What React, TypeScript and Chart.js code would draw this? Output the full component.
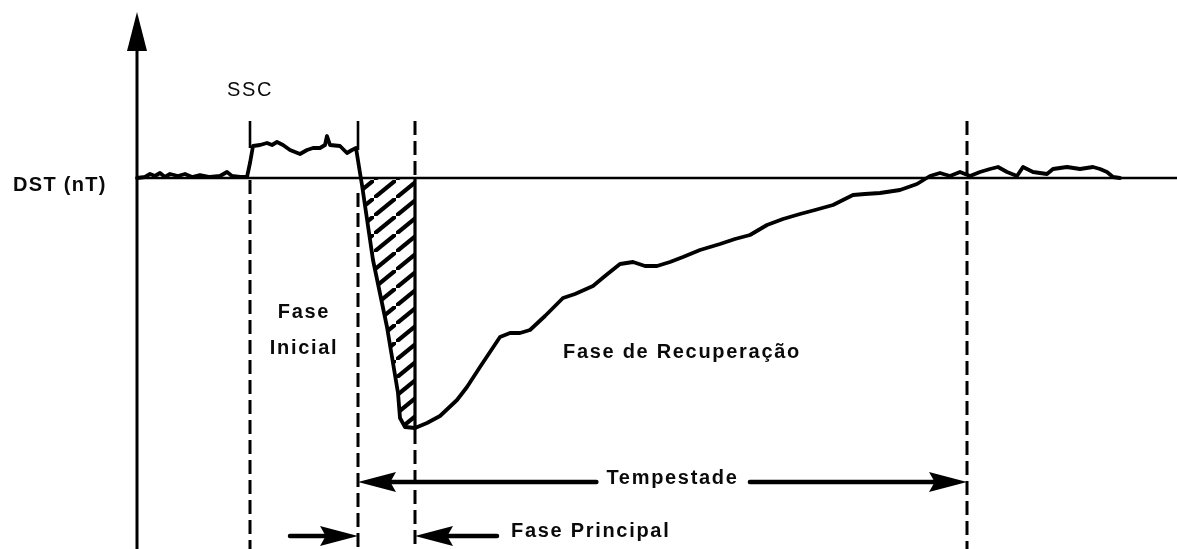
import React, { useEffect, useRef } from "react";
import { Chart, registerables } from "chart.js";

Chart.register(...registerables);

// Time (hours, arbitrary origin) and Dst (nT) of a schematic geomagnetic storm
const hours = [
  0, 0.8, 1.3, 1.8, 2.3, 2.8, 3.3, 4.1, 4.8, 5.5, 6.3, 7.3, 8.3, 9.0, 9.5, 10.3, 11.0,
  11.3, 11.6,
  12.3, 13.0, 13.5, 14.0, 14.6, 15.3, 16.3, 17.0, 17.6, 18.3, 18.8, 19.0, 19.3, 20.3, 21.0, 21.5, 21.9,
  22.3, 22.5, 23.6, 25.0, 26.1, 26.3, 26.8, 27.8,
  29.0, 30.3, 32.0, 33.0, 34.3, 36.3, 37.3, 38.3, 39.3, 40.8, 42.6, 43.8, 45.6, 46.8, 48.3,
  49.6, 50.8, 52.0, 53.3, 54.6, 56.3, 58.3, 59.8, 61.3, 63.0, 64.6, 66.3, 67.8, 69.6, 71.6,
  72.8, 74.3, 76.3, 78.0, 79.3,
  80.3, 81.3, 82.3, 83.3, 84.3, 85.3, 86.1, 87.0, 88.0, 88.6, 89.6, 91.0, 91.6, 93.0, 94.3,
  95.6, 96.3, 97.0, 97.6, 98.3,
];
const dstValues = [
  0, 1, 4, 2, 5, 1, 4, 2, 4, 1, 3, 1, 2, 6, 2, 1, 1,
  15, 32,
  33, 35, 33, 36, 33, 28, 24, 28, 30, 30, 33, 42, 33, 32, 25, 28, 30,
  5, -7, -82, -149, -215, -240, -249, -250,
  -245, -238, -222, -209, -189, -159, -155, -155, -152, -138, -120, -116, -108, -98, -86,
  -84, -88, -88, -84, -79, -72, -66, -61, -57, -47, -41, -36, -32, -27, -17,
  -16, -15, -12, -6, 2,
  5, 2, 6, 2, 6, 9, 11, 6, 2, 11, 6, 4, 9, 11, 9,
  11, 9, 6, 1, 0,
];
// SSC, start of main phase, Dst minimum, end of storm
const phaseHours = [11.3, 22.1, 27.8, 83.0];
const xRange = [-13.7, 104];
const yRange = [-371, 178];
const labelTexts = {
  ssc: "SSC",
  axis: "DST (nT)",
  initial: ["Fase", "Inicial"],
  recovery: "Fase de Recuperação",
  storm: "Tempestade",
  main: "Fase Principal",
};

const INK = "#000";
const FONT = "'Liberation Sans', Arial, sans-serif";

function makeHatch(): CanvasPattern | string {
  const w = 22;
  const h = 18;
  const c = document.createElement("canvas");
  c.width = w;
  c.height = h;
  const g = c.getContext("2d");
  if (!g) return "rgba(0,0,0,0.3)";
  g.strokeStyle = INK;
  g.lineWidth = 4.2;
  g.lineCap = "square";
  for (const [ox, oy] of [[0, 0], [-w, h], [w, -h]]) {
    g.beginPath();
    g.moveTo(ox, oy + h);
    g.lineTo(ox + w, oy);
    g.stroke();
  }
  const p = g.createPattern(c, "repeat");
  return p || "rgba(0,0,0,0.3)";
}

function drawArrow(ctx: CanvasRenderingContext2D, fromX: number, toX: number, y: number) {
  const dir = Math.sign(toX - fromX);
  const headLen = 38;
  const half = 10;
  ctx.save();
  ctx.strokeStyle = INK;
  ctx.fillStyle = INK;
  ctx.lineWidth = 4.5;
  ctx.lineCap = "round";
  ctx.beginPath();
  ctx.moveTo(fromX, y);
  ctx.lineTo(toX - dir * headLen * 0.6, y);
  ctx.stroke();
  ctx.beginPath();
  ctx.moveTo(toX, y);
  ctx.lineTo(toX - dir * headLen, y - half);
  ctx.lineTo(toX - dir * headLen * 0.85, y);
  ctx.lineTo(toX - dir * headLen, y + half);
  ctx.closePath();
  ctx.fill();
  ctx.restore();
}

function vline(ctx: CanvasRenderingContext2D, x: number, y0: number, y1: number, dashed: boolean, width = 3) {
  ctx.save();
  ctx.strokeStyle = INK;
  ctx.lineWidth = width;
  ctx.setLineDash(dashed ? [14, 6] : []);
  ctx.beginPath();
  ctx.moveTo(x, y0);
  ctx.lineTo(x, y1);
  ctx.stroke();
  ctx.restore();
}

function text(ctx: CanvasRenderingContext2D, s: string, x: number, y: number, align: CanvasTextAlign, bold = true, size = 20, spacing = 1.7) {
  ctx.save();
  ctx.fillStyle = "#0a0a0a";
  ctx.font = `${bold ? "bold " : ""}${size}px ${FONT}`;
  (ctx as any).letterSpacing = `${spacing}px`;
  ctx.textBaseline = "middle";
  const w = ctx.measureText(s).width;
  let left = x;
  if (align === "center") left = x - w / 2;
  if (align === "right") left = x - w;
  ctx.textAlign = "left";
  ctx.fillText(s, left, y);
  ctx.restore();
  return { left, right: left + w - spacing };
}

const diagramPlugin = {
  id: "stormDiagram",
  beforeDatasetsDraw(chart: any) {
    const ctx: CanvasRenderingContext2D = chart.ctx;
    const xs = chart.scales.x;
    const ys = chart.scales.y;
    const area = chart.chartArea;
    const x0 = xs.getPixelForValue(0);
    const yb = ys.getPixelForValue(0);
    // baseline Dst = 0
    ctx.save();
    ctx.strokeStyle = INK;
    ctx.lineWidth = 2.6;
    ctx.beginPath();
    ctx.moveTo(x0, yb);
    ctx.lineTo(area.right, yb);
    ctx.stroke();
    ctx.restore();
  },
  afterDatasetsDraw(chart: any) {
    const ctx: CanvasRenderingContext2D = chart.ctx;
    const xs = chart.scales.x;
    const ys = chart.scales.y;
    const area = chart.chartArea;
    const X = (v: number) => xs.getPixelForValue(v);
    const x0 = X(0);
    const yb = ys.getPixelForValue(0);
    const yMin = ys.getPixelForValue(Math.min(...dstValues));
    const bottom = area.bottom;

    // vertical axis with arrow
    ctx.save();
    ctx.strokeStyle = INK;
    ctx.fillStyle = INK;
    ctx.lineWidth = 3;
    ctx.beginPath();
    ctx.moveTo(x0, bottom);
    ctx.lineTo(x0, area.top + 48);
    ctx.stroke();
    ctx.beginPath();
    ctx.moveTo(x0, area.top + 12);
    ctx.lineTo(x0 - 10, area.top + 51);
    ctx.lineTo(x0 + 10, area.top + 51);
    ctx.closePath();
    ctx.fill();
    ctx.restore();

    const [pSsc, pMain, pMin, pEnd] = phaseHours.map(X);
    const tickTop = yb - 57;
    // SSC bracket ticks
    vline(ctx, pSsc, tickTop, yb - 30, false, 2.6);
    vline(ctx, pMain, tickTop, yb - 28, false, 2.6);
    // phase boundaries
    vline(ctx, pSsc, yb + 2, bottom, true);
    vline(ctx, pMain, yb + 15, bottom, true);
    vline(ctx, pMin, tickTop, yb, true);
    vline(ctx, pMin, yb, yMin + 2, false, 3.2);
    vline(ctx, pMin, yMin + 2, bottom, true);
    vline(ctx, pEnd, tickTop, bottom, true);

    // labels
    text(ctx, labelTexts.ssc, pSsc, 90, "center", false, 20, 1.6);
    text(ctx, labelTexts.axis, 13, yb + 7, "left", true, 20, 1.3);
    text(ctx, labelTexts.initial[0], (pSsc + pMain) / 2, 312, "center");
    text(ctx, labelTexts.initial[1], (pSsc + pMain) / 2, 348, "center");
    text(ctx, labelTexts.recovery, 563, 352, "left");

    // storm arrow row
    const rowStorm = bottom - 67;
    const t = text(ctx, labelTexts.storm, (pMain + pEnd) / 2 + 10, rowStorm - 4, "center");
    drawArrow(ctx, t.left - 10, pMain, rowStorm);
    drawArrow(ctx, t.right + 13, pEnd, rowStorm);

    // main phase row
    const rowMain = bottom - 13;
    drawArrow(ctx, pMain - 68, pMain, rowMain);
    drawArrow(ctx, pMin + 82, pMin, rowMain);
    text(ctx, labelTexts.main, pMin + 96, rowMain - 5, "left");
  },
};

export default function App() {
  const ref = useRef<HTMLCanvasElement | null>(null);
  useEffect(() => {
    if (!ref.current) return;
    const points = hours.map((h, i) => ({ x: h, y: dstValues[i] }));
    const mainPhase = points
      .filter((p) => p.x >= phaseHours[1] && p.x <= phaseHours[2])
      .map((p) => ({ x: p.x, y: Math.min(p.y, 0) }));
    const chart = new Chart(ref.current, {
      type: "line",
      data: {
        datasets: [
          {
            data: mainPhase,
            borderWidth: 0,
            borderColor: "rgba(0,0,0,0)",
            backgroundColor: makeHatch() as any,
            fill: "origin",
            pointRadius: 0,
          },
          {
            data: points,
            borderColor: INK,
            borderWidth: 3.8,
            borderJoinStyle: "round",
            borderCapStyle: "round",
            pointRadius: 0,
            fill: false,
            tension: 0,
          },
        ],
      },
      options: {
        responsive: false,
        animation: false,
        events: [],
        layout: { padding: 0 },
        plugins: { legend: { display: false }, tooltip: { enabled: false } },
        scales: {
          x: { type: "linear", min: xRange[0], max: xRange[1], display: false },
          y: { type: "linear", min: yRange[0], max: yRange[1], display: false },
        },
      },
      plugins: [diagramPlugin],
    });
    return () => chart.destroy();
  }, []);
  return (
    <div style={{ position: "fixed", left: 0, top: 0, width: 1177, height: 549, background: "#fff" }}>
      <canvas ref={ref} width={1177} height={549} />
    </div>
  );
}
